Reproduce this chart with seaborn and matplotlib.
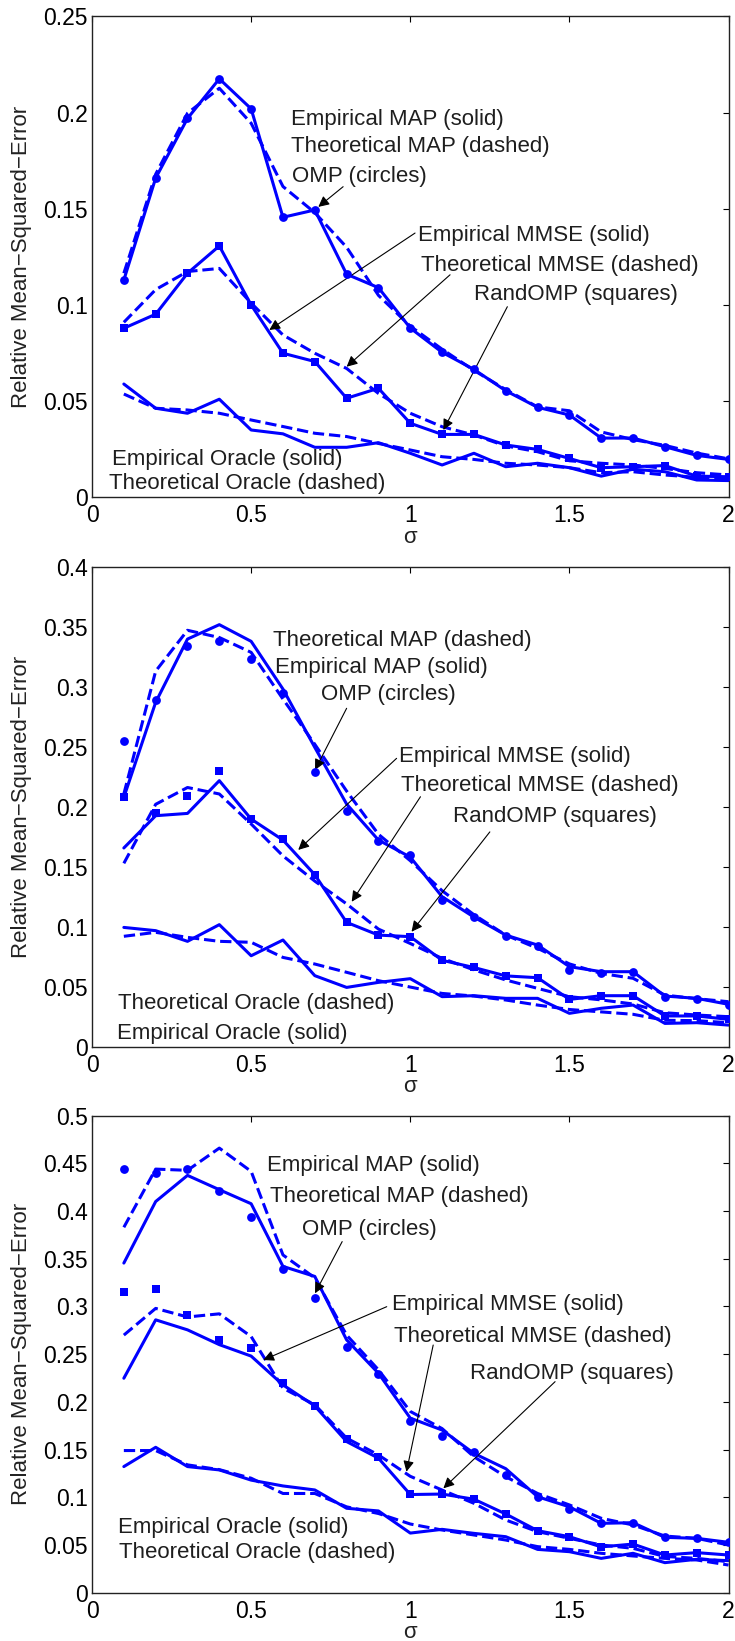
import matplotlib
matplotlib.use("Agg")
import matplotlib.pyplot as plt
import seaborn as sns

sigma = [0.1, 0.2, 0.3, 0.4, 0.5, 0.6, 0.7, 0.8, 0.9, 1.0,
         1.1, 1.2, 1.3, 1.4, 1.5, 1.6, 1.7, 1.8, 1.9, 2.0]

# panel 1
emp_map1 = [0.113, 0.166, 0.197, 0.2176, 0.202, 0.1456, 0.1494, 0.116, 0.109, 0.088,
            0.0754, 0.0665, 0.0554, 0.0468, 0.0428, 0.0308, 0.0308, 0.0263, 0.0218, 0.0197]
th_map1 = [0.1165, 0.168, 0.1997, 0.2127, 0.1945, 0.1616, 0.148, 0.13, 0.105, 0.089,
           0.077, 0.066, 0.056, 0.047, 0.045, 0.034, 0.030, 0.027, 0.023, 0.020]
omp1 = [0.113, 0.166, 0.197, 0.2176, 0.202, 0.1456, 0.1494, 0.116, 0.109, 0.088,
        0.0754, 0.0665, 0.0554, 0.0468, 0.0428, 0.0308, 0.0308, 0.0263, 0.0218, 0.0197]
emp_mmse1 = [0.0879, 0.0952, 0.1165, 0.1307, 0.100, 0.0749, 0.0706, 0.0515, 0.0567, 0.0385,
             0.0327, 0.0327, 0.0272, 0.0249, 0.0202, 0.0154, 0.0159, 0.0165, 0.011, 0.0107]
th_mmse1 = [0.091, 0.108, 0.1174, 0.119, 0.101, 0.0844, 0.0749, 0.067, 0.054, 0.0437,
            0.0367, 0.0324, 0.0267, 0.0237, 0.019, 0.0177, 0.0168, 0.015, 0.0128, 0.0116]
randomp1 = [0.0879, 0.0952, 0.1165, 0.1307, 0.100, 0.0749, 0.0706, 0.0515, 0.0567, 0.0385,
            0.0327, 0.0327, 0.0272, 0.0249, 0.0202, 0.0154, 0.0159, 0.0165, 0.011, 0.0107]
emp_or1 = [0.0589, 0.0463, 0.0437, 0.051, 0.035, 0.033, 0.026, 0.026, 0.0284, 0.0229,
           0.0168, 0.0229, 0.0159, 0.0177, 0.0154, 0.011, 0.0146, 0.0133, 0.009, 0.0087]
th_or1 = [0.0537, 0.0463, 0.0454, 0.0437, 0.0402, 0.0368, 0.0333, 0.0316, 0.028, 0.0246,
          0.0211, 0.0197, 0.0177, 0.0168, 0.0154, 0.0128, 0.0133, 0.0116, 0.0104, 0.0098]

# panel 2
emp_map2 = [0.2078, 0.287, 0.3397, 0.3517, 0.3378, 0.298, 0.2494, 0.2022, 0.1722, 0.158,
            0.125, 0.108, 0.093, 0.0847, 0.0667, 0.0625, 0.0625, 0.0422, 0.0403, 0.0353]
th_map2 = [0.2106, 0.313, 0.347, 0.341, 0.3286, 0.2897, 0.252, 0.213, 0.177, 0.155,
           0.13, 0.11, 0.093, 0.082, 0.069, 0.061, 0.057, 0.043, 0.040, 0.0375]
omp2 = [0.255, 0.289, 0.3336, 0.3383, 0.323, 0.295, 0.2286, 0.196, 0.1717, 0.16,
        0.122, 0.108, 0.092, 0.084, 0.064, 0.0617, 0.062, 0.041, 0.040, 0.035]
emp_mmse2 = [0.1656, 0.1925, 0.1944, 0.2217, 0.1897, 0.1722, 0.1433, 0.1036, 0.093, 0.0917,
             0.072, 0.066, 0.059, 0.0575, 0.0394, 0.0425, 0.0425, 0.0256, 0.0256, 0.0228]
th_mmse2 = [0.1528, 0.202, 0.216, 0.2106, 0.1856, 0.159, 0.138, 0.119, 0.098, 0.086,
            0.0736, 0.064, 0.0556, 0.0486, 0.0417, 0.039, 0.0356, 0.0283, 0.0264, 0.025]
randomp2 = [0.2078, 0.195, 0.209, 0.23, 0.19, 0.173, 0.1433, 0.1036, 0.093, 0.0917,
            0.072, 0.066, 0.059, 0.0575, 0.0394, 0.0425, 0.0425, 0.0256, 0.0256, 0.0228]
emp_or2 = [0.0994, 0.0967, 0.0878, 0.1017, 0.0758, 0.0889, 0.0592, 0.0494, 0.0536, 0.0567,
           0.0417, 0.0425, 0.0403, 0.0403, 0.0278, 0.032, 0.0347, 0.0194, 0.02, 0.018]
th_or2 = [0.092, 0.0953, 0.0911, 0.0878, 0.087, 0.0744, 0.0689, 0.062, 0.055, 0.0497,
          0.0444, 0.0422, 0.0389, 0.0347, 0.031, 0.029, 0.027, 0.022, 0.0217, 0.02]

# panel 3
emp_map3 = [0.3455, 0.41, 0.4374, 0.4224, 0.4077, 0.342, 0.3315, 0.265, 0.23, 0.183,
            0.1705, 0.146, 0.130, 0.1006, 0.090, 0.0727, 0.0734, 0.058, 0.057, 0.0528]
th_map3 = [0.383, 0.444, 0.4427, 0.466, 0.4416, 0.354, 0.33, 0.27, 0.2336, 0.19,
           0.172, 0.1425, 0.1216, 0.104, 0.092, 0.078, 0.071, 0.0594, 0.057, 0.050]
omp3 = [0.4444, 0.44, 0.444, 0.4206, 0.3937, 0.339, 0.3087, 0.2573, 0.2294, 0.18,
        0.164, 0.147, 0.123, 0.100, 0.088, 0.0727, 0.0734, 0.058, 0.057, 0.0528]
emp_mmse3 = [0.2248, 0.286, 0.2755, 0.26, 0.248, 0.2178, 0.1958, 0.1584, 0.141, 0.1029,
             0.1034, 0.098, 0.0825, 0.065, 0.0587, 0.048, 0.051, 0.0395, 0.042, 0.0395]
th_mmse3 = [0.27, 0.298, 0.289, 0.2923, 0.2685, 0.2143, 0.197, 0.162, 0.1444, 0.122,
            0.1076, 0.0937, 0.0762, 0.064, 0.057, 0.05, 0.0465, 0.038, 0.036, 0.0325]
randomp3 = [0.315, 0.3185, 0.2906, 0.265, 0.2563, 0.2196, 0.1958, 0.1608, 0.142, 0.103,
            0.1034, 0.098, 0.0825, 0.065, 0.0587, 0.048, 0.051, 0.0395, 0.042, 0.0395]
emp_or3 = [0.1322, 0.1524, 0.1322, 0.1287, 0.118, 0.1119, 0.1077, 0.0885, 0.0857, 0.0625,
           0.0664, 0.0622, 0.0587, 0.0454, 0.043, 0.036, 0.0413, 0.0315, 0.035, 0.0336]
th_or3 = [0.149, 0.149, 0.134, 0.129, 0.12, 0.104, 0.104, 0.09, 0.083, 0.072,
          0.0657, 0.0605, 0.0552, 0.0483, 0.0454, 0.0413, 0.0385, 0.036, 0.0343, 0.029]

ymax = [0.25, 0.4, 0.5]
xticks = [0, 0.5, 1, 1.5, 2]

# label text and where it sits (data coords, left-aligned)
labels1 = [("Empirical MAP (solid)", 0.624, 0.1967),
           ("Theoretical MAP (dashed)", 0.624, 0.1822),
           ("OMP (circles)", 0.627, 0.1667),
           ("Empirical MMSE (solid)", 1.025, 0.1359),
           ("Theoretical MMSE (dashed)", 1.033, 0.1203),
           ("RandOMP (squares)", 1.20, 0.1052),
           ("Empirical Oracle (solid)", 0.062, 0.0199),
           ("Theoretical Oracle (dashed)", 0.053, 0.0073)]
labels2 = [("Theoretical MAP (dashed)", 0.570, 0.3383),
           ("Empirical MAP (solid)", 0.575, 0.3158),
           ("OMP (circles)", 0.7185, 0.2931),
           ("Empirical MMSE (solid)", 0.966, 0.2417),
           ("Theoretical MMSE (dashed)", 0.970, 0.2173),
           ("RandOMP (squares)", 1.133, 0.1917),
           ("Theoretical Oracle (dashed)", 0.083, 0.0364),
           ("Empirical Oracle (solid)", 0.0776, 0.0106)]
labels3 = [("Empirical MAP (solid)", 0.549, 0.4473),
           ("Theoretical MAP (dashed)", 0.559, 0.4151),
           ("OMP (circles)", 0.661, 0.3802),
           ("Empirical MMSE (solid)", 0.9425, 0.3016),
           ("Theoretical MMSE (dashed)", 0.949, 0.2683),
           ("RandOMP (squares)", 1.1876, 0.2300),
           ("Empirical Oracle (solid)", 0.083, 0.0686),
           ("Theoretical Oracle (dashed)", 0.085, 0.0419)]

# arrows: (tail, tip)
arrows1 = [((0.789, 0.1615), (0.711, 0.151)),
           ((1.015, 0.1374), (0.557, 0.087)),
           ((1.125, 0.1157), (0.800, 0.0679)),
           ((1.305, 0.0991), (1.104, 0.035))]
arrows2 = [((0.800, 0.282), (0.7007, 0.2306)),
           ((0.957, 0.2403), (0.648, 0.164)),
           ((1.032, 0.2083), (0.816, 0.1208)),
           ((1.250, 0.179), (1.004, 0.0958))]
arrows3 = [((0.786, 0.368), (0.7006, 0.3138)),
           ((0.926, 0.2998), (0.538, 0.2439)),
           ((1.072, 0.2596), (0.988, 0.1268)),
           ((1.455, 0.2212), (1.104, 0.1094))]

panels = [
    dict(emp_map=emp_map1, th_map=th_map1, omp=omp1, emp_mmse=emp_mmse1, th_mmse=th_mmse1,
         randomp=randomp1, emp_or=emp_or1, th_or=th_or1, labels=labels1, arrows=arrows1),
    dict(emp_map=emp_map2, th_map=th_map2, omp=omp2, emp_mmse=emp_mmse2, th_mmse=th_mmse2,
         randomp=randomp2, emp_or=emp_or2, th_or=th_or2, labels=labels2, arrows=arrows2),
    dict(emp_map=emp_map3, th_map=th_map3, omp=omp3, emp_mmse=emp_mmse3, th_mmse=th_mmse3,
         randomp=randomp3, emp_or=emp_or3, th_or=th_or3, labels=labels3, arrows=arrows3),
]

sns.set_style("white")
plt.rcParams['font.family'] = ['Liberation Sans', 'DejaVu Sans']

blue = "#0000ff"
lw = 2.2

fig = plt.figure(figsize=(7.35, 16.41), dpi=100)
boxes = [[0.1252, 0.69695, 0.8660, 0.2930],
         [0.1252, 0.36216, 0.8660, 0.2925],
         [0.1252, 0.02943, 0.8660, 0.2907]]

for i, p in enumerate(panels):
    ax = fig.add_axes(boxes[i])
    for key, ls in [("emp_map", "-"), ("th_map", "--"), ("emp_mmse", "-"),
                    ("th_mmse", "--"), ("emp_or", "-"), ("th_or", "--")]:
        sns.lineplot(x=sigma, y=p[key], ax=ax, color=blue, lw=lw, linestyle=ls,
                     estimator=None, sort=False)
    sns.scatterplot(x=sigma, y=p["omp"], ax=ax, marker="o", s=40, color=blue,
                    edgecolor=blue, linewidth=0, zorder=5)
    sns.scatterplot(x=sigma, y=p["randomp"], ax=ax, marker="s", s=30, color=blue,
                    edgecolor=blue, linewidth=0, zorder=5)

    for txt, tx, ty in p["labels"]:
        ax.text(tx, ty, txt, fontsize=16, ha="left", va="center", color="#1e1e1e")
    for tail, tip in p["arrows"]:
        ax.annotate("", xy=tip, xytext=tail,
                    arrowprops=dict(arrowstyle="-|>", color="black", lw=0.8,
                                    mutation_scale=16, shrinkA=0, shrinkB=0))

    ax.set_xlim(0, 2)
    ax.set_ylim(0, ymax[i])
    ax.set_xticks(xticks)
    ax.set_xticklabels(["%g" % t for t in xticks])
    yt = [k * 0.05 for k in range(int(round(ymax[i] / 0.05)) + 1)]
    ax.set_yticks(yt)
    ax.set_yticklabels(["%g" % round(t, 2) for t in yt])
    ax.tick_params(direction="in", top=True, right=True, length=4, width=0.8,
                   labelsize=16.5, colors="black")
    ax.tick_params(axis="x", pad=5)
    ax.tick_params(axis="y", pad=3)
    for s in ax.spines.values():
        s.set_color("#222222")
        s.set_linewidth(1.0)

    ax.set_ylabel("Relative Mean\u2212Squared\u2212Error", fontsize=16, color="#222222")
    ax.yaxis.set_label_coords(-0.094, 0.5)
    ax.set_xlabel("\u03c3", fontsize=16, color="#222222")
    ax.xaxis.set_label_coords(0.5, -0.062)

fig.savefig("out.png", dpi=100)
